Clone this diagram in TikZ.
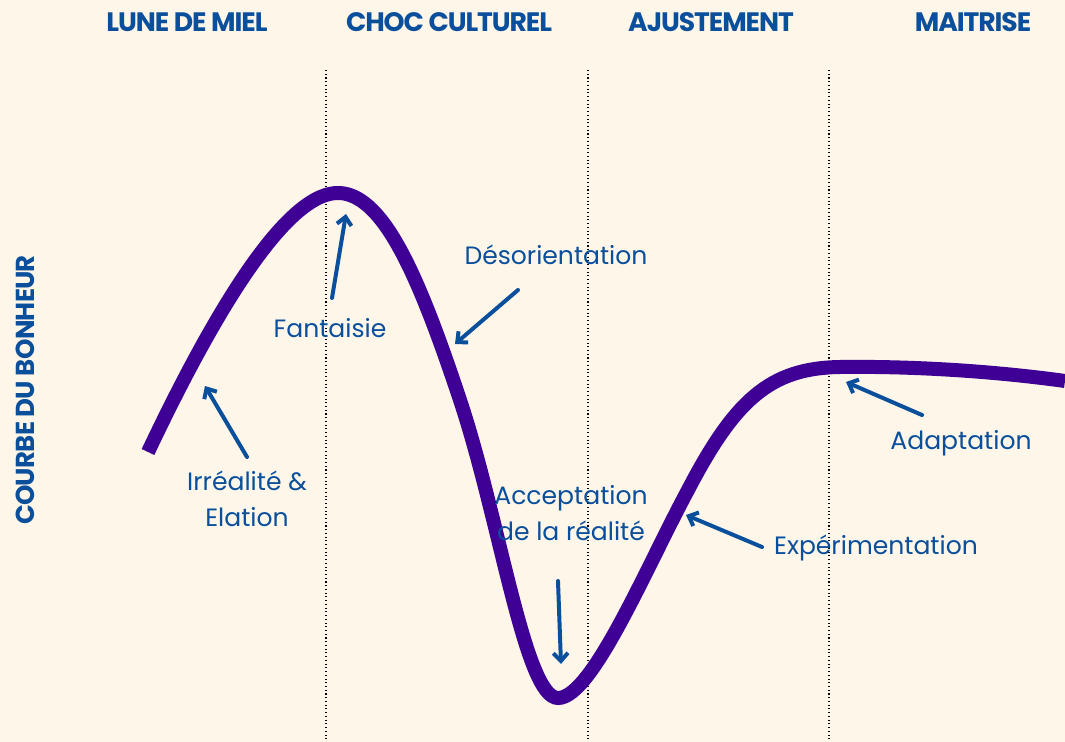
\documentclass[tikz,border=0pt]{standalone}
\usepackage{fontspec}
\setmainfont{Poppins}
\usepackage{xcolor}
\usetikzlibrary{arrows.meta,positioning}
\definecolor{cream}{HTML}{FEF6E9}
\definecolor{courbe}{HTML}{3F0096}
\definecolor{bleu}{HTML}{0A4F9C}
\begin{document}
\begin{tikzpicture} [x=0.75pt, y=-0.75pt,
                phase/.style = {font=\fontsize{20}{22}\selectfont\bfseries, text=bleu, inner sep=0pt},
                etape/.style = {font=\fontsize{18.8}{27}\selectfont, text=bleu, align=center, inner sep=0pt},
                fleche/.style = {-{Straight Barb[length=6pt,width=11pt]}, line width=3pt, bleu, line cap=round},
                limite/.style = {dotted, line width=0.8pt, black}
            ]
            \fill [cream] (0,0) rectangle (1065,742);
            \useasboundingbox (0,0) rectangle (1065,742);
            % phases
            \node[phase] (p1) at (187,22) {\addfontfeature{LetterSpace=-4}LUNE DE MIEL};
            \node[phase] (p2) at (449,22) {\addfontfeature{LetterSpace=-4}CHOC CULTUREL};
            \node[phase] (p3) at (711,22) {\addfontfeature{LetterSpace=-4}AJUSTEMENT};
            \node[phase] (p4) at (973,22) {\addfontfeature{LetterSpace=-4}MAITRISE};
            \node[phase, rotate=90, font=\fontsize{19.5}{22}\selectfont\bfseries] (axe) at (25,390) {\addfontfeature{LetterSpace=-3}COURBE DU BONHEUR};
            % limites
            \draw [limite] (326,70) -- (326,742);
            \draw [limite] (588,70) -- (588,742);
            \draw [limite] (829,70) -- (829,742);
            % courbe
            \draw [courbe, line width=10.5pt] (148,452) .. controls (220,300) and (290,190) .. (340,193)
                .. controls (385,196) and (420,280) .. (460,400)
                .. controls (500,520) and (525,698) .. (558,698)
                .. controls (592,698) and (645,570) .. (688,490)
                .. controls (735,400) and (770,368) .. (840,367)
                .. controls (920,366) and (1000,372) .. (1065,381);
            % etapes
            \node[etape] (e1) at (247,499) {Irréalité \&\\Elation};
            \node[etape] (e2) at (330,328) {Fantaisie};
            \node[etape] (e3) at (556,255) {Désorientation};
            \node[etape] (e4) at (571,513) {Acceptation\\de la réalité};
            \node[etape] (e5) at (876,548) {Expérimentation};
            \node[etape] (e6) at (961,443) {Adaptation};
            \coordinate (c1a) at (247,457); \coordinate (c1b) at (205,386);
            \coordinate (c2a) at (332,298); \coordinate (c2b) at (346,214);
            \coordinate (c3a) at (518,290); \coordinate (c3b) at (455,344);
            \coordinate (c4a) at (558,581); \coordinate (c4b) at (561,664);
            \coordinate (c5a) at (762,547); \coordinate (c5b) at (686,515);
            \coordinate (c6a) at (922,415); \coordinate (c6b) at (846,382);
            \foreach \i in {1,...,6}
                \draw [fleche] (c\i a) -- (c\i b);
        \end{tikzpicture}
\end{document}
